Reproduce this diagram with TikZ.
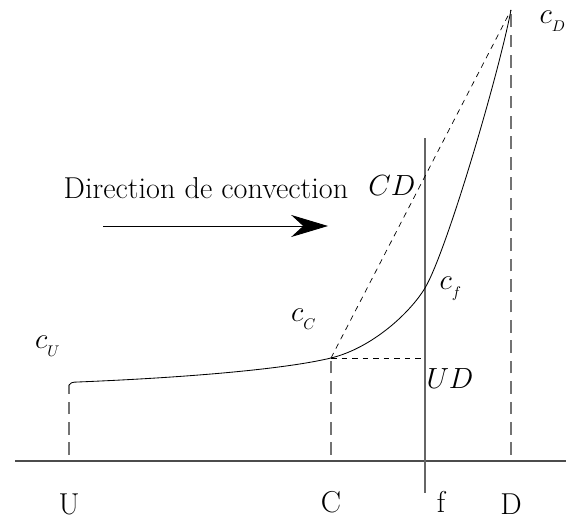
\documentclass[tikz,border=0pt]{standalone}
\usepackage{tikz}
\usetikzlibrary{arrows.meta,positioning,calc}

\begin{document}
\begin{tikzpicture}[>=Stealth, x=0.025cm, y=-0.025cm, line width=0.6pt,
    font=\fontsize{21.5}{26}\selectfont,
    guide/.style={draw=black!55, line width=0.8pt, dash pattern=on 9pt off 5.5pt},
    aux/.style={draw, line width=0.5pt, dash pattern=on 4pt off 3.5pt},
    lbl/.style={inner sep=0pt}]
  \useasboundingbox (0,0) rectangle (574,518);

  % axis and feet
  \coordinate (a0) at (15,461);
  \coordinate (a1) at (566,461);
  \draw[black!70, line width=0.8pt] (a0) -- (a1);
  \coordinate (U0) at (69,455);
  \coordinate (C0) at (331,455);
  \coordinate (D0) at (511,455);
  \coordinate (f0) at (425,493);
  \coordinate (f1) at (425,138);

  % curve points
  \coordinate (cU) at (69,385);
  \coordinate (cC) at (331,358);
  \coordinate (cf) at (425,288);
  \coordinate (cD) at (511,10);
  \coordinate (ud) at (425,358);

  \draw[guide] (U0) -- (cU);
  \draw[guide] (C0) -- (cC);
  \draw[guide] (D0) -- (cD);
  \draw[black!60, line width=0.8pt] (f0) -- (f1);

  \draw (cU) .. controls (70,383) and (72,382) .. (78,382)
    .. controls (200,377) and (290,368) .. (cC)
    .. controls (372,348) and (410,313) .. (cf)
    .. controls (446,253) and (498,77) .. (cD);
  \draw[aux] (cC) -- (cD);
  \draw[aux] (cC) -- (ud);

  % labels
  \node[lbl, anchor=base] (lU) at (69,514) {U};
  \node[lbl, anchor=base] (lC) at (331,512) {C};
  \node[lbl, anchor=base] (lf) at (441,513) {f};
  \node[lbl, anchor=base] (lD) at (511,514) {D};
  \node[lbl] (tU) at (48,346) {$c_{_U}$};
  \node[lbl] (tC) at (304,319) {$c_{_C}$};
  \node[lbl] (tf) at (451,289) {$c_{_f}$};
  \node[lbl] (tD) at (553,21) {$c_{_D}$};
  \node[lbl] (tCD) at (392,186) {$CD$};
  \node[lbl] (tUD) at (450,379) {$UD$};

  % convection
  \node[lbl] (dir) at (206,188) {Direction de convection};
  \coordinate (p0) at (103,226);
  \coordinate (p1) at (328,226);
  \draw[-{Stealth[length=0.92cm, width=0.55cm, inset=0.3cm]}] (p0) -- (p1);
\end{tikzpicture}
\end{document}
